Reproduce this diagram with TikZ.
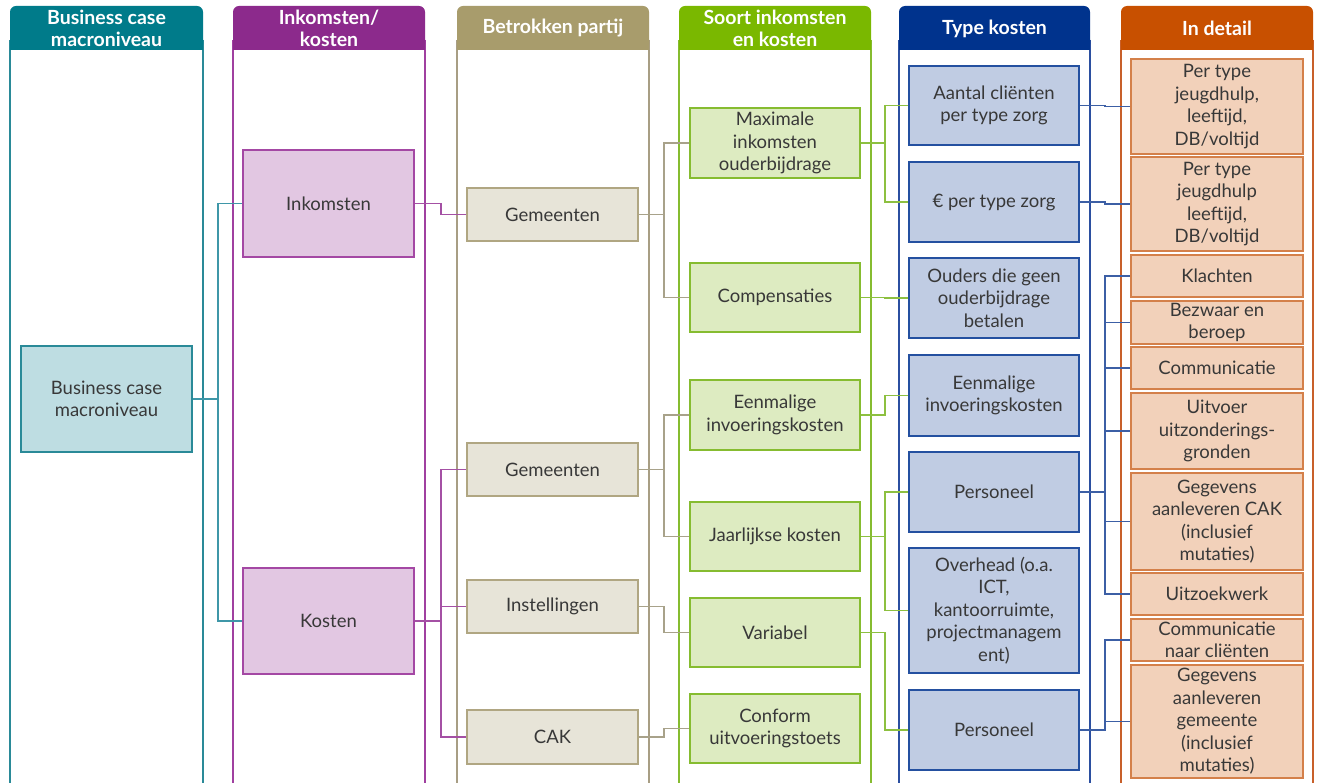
\documentclass[tikz,border=0pt]{standalone}
\usepackage{fontspec}
\setmainfont{Lato}
\definecolor{hteal}{HTML}{007B8A}
\definecolor{hpurp}{HTML}{8C2A8C}
\definecolor{holive}{HTML}{A89C6C}
\definecolor{hgreen}{HTML}{7AB800}
\definecolor{hnavy}{HTML}{00338D}
\definecolor{horange}{HTML}{C85000}
\definecolor{lteal}{HTML}{2A8A98}
\definecolor{lpurp}{HTML}{A040A0}
\definecolor{lolive}{HTML}{A89E84}
\definecolor{lgreen}{HTML}{86BC30}
\definecolor{lnavy}{HTML}{2B4FA0}
\definecolor{lorange}{HTML}{C8602A}
\definecolor{fteal}{HTML}{BEDDE2}
\definecolor{fpurp}{HTML}{E2C7E2}
\definecolor{folive}{HTML}{E7E4D8}
\definecolor{fgreen}{HTML}{DDEBC1}
\definecolor{fblue}{HTML}{C0CCE3}
\definecolor{forange}{HTML}{F2D1BA}
\definecolor{bteal}{HTML}{2A8A98}
\definecolor{bpurp}{HTML}{A448A4}
\definecolor{bolive}{HTML}{B0A682}
\definecolor{bgreen}{HTML}{86BC30}
\definecolor{bblue}{HTML}{2450A0}
\definecolor{borange}{HTML}{D4804A}
\definecolor{txt}{HTML}{383838}
\definecolor{cteal}{HTML}{3F97A8}
\definecolor{cpurp}{HTML}{A450A4}
\definecolor{colive}{HTML}{A8A28A}
\definecolor{cgreen}{HTML}{8DC040}
\definecolor{cblue}{HTML}{3C5FA5}
\newcommand\mylane[6]{%
  \draw[#4, line width=1.2pt] (#1,40) -- (#1,800) (#2,40) -- (#2,800);
  \fill[#3, rounded corners=6pt] (#1,50) -- (#1,6) -- (#2,6) -- (#2,50) -- cycle;
  \fill[#3] (#1,30) rectangle (#2,50);
  \node[headtext] (#5) at ({(#1+#2)/2},28.5) {#6};
}
\begin{document}
\begin{tikzpicture}[x=1pt,y=-1pt,
  headtext/.style={text=white, font=\bfseries\fontsize{19.5}{22}\selectfont, align=center, inner sep=0pt},
  bx/.style={draw, line width=1.1pt, align=center, inner sep=0pt, text=txt, font=\fontsize{18.5}{22.5}\selectfont},
  bteal/.style={bx, fill=fteal, draw=bteal, minimum width=171pt},
  bpurp/.style={bx, fill=fpurp, draw=bpurp, minimum width=171pt},
  bolive/.style={bx, fill=folive, draw=bolive, minimum width=171pt},
  bgreen/.style={bx, fill=fgreen, draw=bgreen, minimum width=170pt},
  bblue/.style={bx, fill=fblue, draw=bblue, minimum width=170pt},
  borange/.style={bx, fill=forange, draw=borange, minimum width=172pt},
  conn/.style={line width=1.2pt},
]
\useasboundingbox (0,0) rectangle (1319,783);
\clip (0,0) rectangle (1319,783);
\fill[white] (0,0) rectangle (1319,783);

\mylane{10}{203}{hteal}{lteal}{h1}{Business case\\macroniveau}
\mylane{233}{425}{hpurp}{lpurp}{h2}{Inkomsten/\\kosten}
\mylane{457}{649}{holive}{lolive}{h3}{Betrokken partij}
\mylane{679}{871}{hgreen}{lgreen}{h4}{Soort inkomsten\\en kosten}
\mylane{899}{1090}{hnavy}{lnavy}{h5}{Type kosten}
\mylane{1121}{1313}{horange}{lorange}{h6}{In detail}

% elbow x positions
\coordinate (x1) at (218,0);
\coordinate (x2) at (441,0);
\coordinate (x3) at (664,0);
\coordinate (x4) at (885,0);
\coordinate (x5) at (1105,0);

% nodes
\node[bteal, minimum height=106pt] (bc) at (106.5,399) {Business case\\macroniveau};

\node[bpurp, minimum height=107pt] (ink) at (328.5,203.5) {Inkomsten};
\node[bpurp, minimum height=106pt] (kos) at (328.5,621) {Kosten};

\node[bolive, minimum height=53pt] (gem1) at (552.5,214.5) {Gemeenten};
\node[bolive, minimum height=53pt] (gem2) at (552.5,469.5) {Gemeenten};
\node[bolive, minimum height=53pt] (inst) at (552.5,606.5) {Instellingen};
\node[bolive, minimum height=54pt] (cak) at (552.5,737) {CAK};

\node[bgreen, minimum height=70pt] (max) at (775,143) {Maximale\\inkomsten\\ouderbijdrage};
\node[bgreen, minimum height=69pt] (comp) at (775,297.5) {Compensaties};
\node[bgreen, minimum height=70pt] (een) at (775,415) {Eenmalige\\invoeringskosten};
\node[bgreen, minimum height=69pt] (jaar) at (775,536.5) {Jaarlijkse kosten};
\node[bgreen, minimum height=69pt] (var) at (775,632.5) {Variabel};
\node[bgreen, minimum height=69pt] (conf) at (775,728.5) {Conform\\uitvoeringstoets};

\node[bblue, minimum height=79pt] (aant) at (994,105.5) {Aantal cliënten\\per type zorg};
\node[bblue, minimum height=80pt] (eur) at (994,202) {€ per type zorg};
\node[bblue, minimum height=80pt] (oud) at (994,298) {Ouders die geen\\ouderbijdrage\\betalen};
\node[bblue, minimum height=81pt] (eenk) at (994,395.5) {Eenmalige\\invoeringskosten};
\node[bblue, minimum height=80pt] (pers1) at (994,492) {Personeel};
\node[bblue, minimum height=125pt] (over) at (994,610.5) {Overhead (o.a.\\ICT,\\kantoorruimte,\\projectmanagem\\ent)};
\node[bblue, minimum height=80pt] (pers2) at (994,730) {Personeel};

\node[borange, minimum height=95pt] (d1) at (1217,106.5) {Per type\\jeugdhulp,\\leeftijd,\\DB/voltijd};
\node[borange, minimum height=94pt] (d2) at (1217,204) {Per type\\jeugdhulp\\leeftijd,\\DB/voltijd};
\node[borange, minimum height=42pt] (d3) at (1217,276) {Klachten};
\node[borange, minimum height=43pt] (d4) at (1217,322.5) {Bezwaar en\\beroep};
\node[borange, minimum height=42pt] (d5) at (1217,368) {Communicatie};
\node[borange, minimum height=76pt] (d6) at (1217,431) {Uitvoer\\uitzonderings-\\gronden};
\node[borange, minimum height=97pt] (d7) at (1217,521.5) {Gegevens\\aanleveren CAK\\(inclusief\\mutaties)};
\node[borange, minimum height=42pt] (d8) at (1217,594) {Uitzoekwerk};
\node[borange, minimum height=42pt] (d9) at (1217,640) {Communicatie\\naar cliënten};
\node[borange, minimum height=113pt] (d10) at (1217,721.5) {Gegevens\\aanleveren\\gemeente\\(inclusief\\mutaties)};

% connectors
\foreach \t in {ink,kos}
  \draw[conn, cteal] (bc.east) -- (bc.east -| x1) |- (\t.west);
\draw[conn, cpurp] (ink.east) -- (ink.east -| x2) |- (gem1.west);
\foreach \t in {gem2,inst,cak}
  \draw[conn, cpurp] (kos.east) -- (kos.east -| x2) |- (\t.west);
\foreach \t in {max,comp}
  \draw[conn, colive] (gem1.east) -- (gem1.east -| x3) |- (\t.west);
\foreach \t in {een,jaar}
  \draw[conn, colive] (gem2.east) -- (gem2.east -| x3) |- (\t.west);
\draw[conn, colive] (inst.east) -- (inst.east -| x3) |- (var.west);
\draw[conn, colive] (cak.east) -- (cak.east -| x3) |- (conf.west);
\foreach \t in {aant,eur}
  \draw[conn, cgreen] (max.east) -- (max.east -| x4) |- (\t.west);
\draw[conn, cgreen] (comp.east) -- (comp.east -| x4) |- (oud.west);
\draw[conn, cgreen] (een.east) -- (een.east -| x4) |- (eenk.west);
\foreach \t in {pers1,over}
  \draw[conn, cgreen] (jaar.east) -- (jaar.east -| x4) |- (\t.west);
\draw[conn, cgreen] (var.east) -- (var.east -| x4) |- (pers2.west);
\draw[conn, cblue] (aant.east) -- (aant.east -| x5) |- (d1.west);
\draw[conn, cblue] (eur.east) -- (eur.east -| x5) |- (d2.west);
\foreach \t in {d3,d4,d5,d6,d7,d8}
  \draw[conn, cblue] (pers1.east) -- (pers1.east -| x5) |- (\t.west);
\foreach \t in {d9,d10}
  \draw[conn, cblue] (pers2.east) -- (pers2.east -| x5) |- (\t.west);
\end{tikzpicture}
\end{document}
